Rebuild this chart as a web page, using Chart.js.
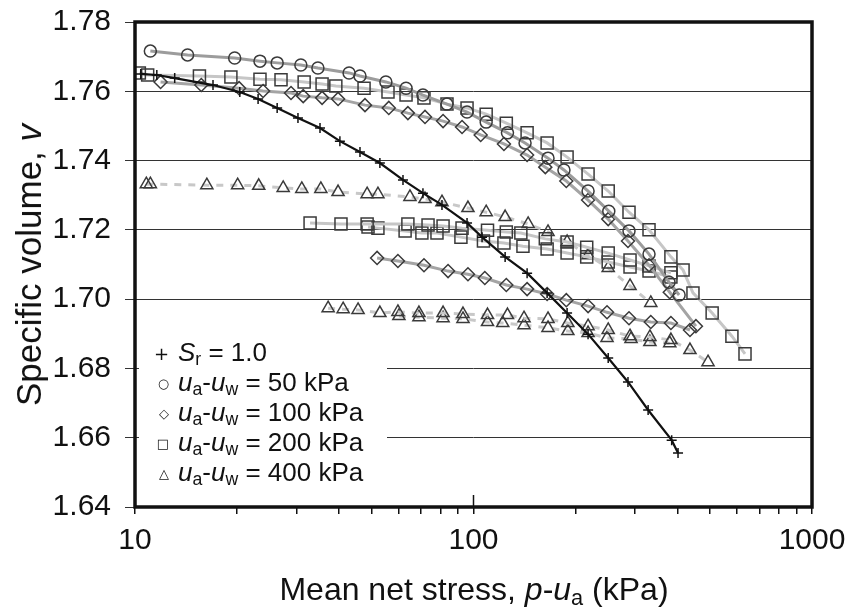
<!DOCTYPE html>
<html>
<head>
<meta charset="utf-8">
<script src="https://cdn.jsdelivr.net/npm/chart.js@4"></script>
<style>
  body { margin: 0; background: #fff; }
  #wrap { position: relative; width: 850px; height: 612px; font-family: 'Liberation Sans', Arial, sans-serif; color: #111; }
  #legend { position: absolute; left: 139px; top: 338px; width: 248px; height: 146px; background: #fff; font-size: 26px; line-height: 29px; }
  #legend .row { white-space: nowrap; }
  #legend .mk { display: inline-block; width: 30px; text-align: right; padding-right: 9px; font-family: 'DejaVu Sans', sans-serif; font-size: 13px; vertical-align: 3px; }
  #legend sub, .axtitle sub { font-size: 0.68em; vertical-align: -0.22em; line-height: 0; }
  .axtitle { position: absolute; white-space: nowrap; }
  #xtitle { left: 0; width: 948px; text-align: center; top: 571px; font-size: 32px; }
  #ytitle { left: 29px; top: 265px; transform: translate(-50%, -50%) rotate(-90deg); font-size: 35px; }
</style>
</head>
<body>
<div id="wrap">
  <canvas id="chart" width="850" height="612"></canvas>
  <div id="legend">
    <div class="row"><span class="mk" style="font-size:18px;vertical-align:1px">+</span><i>S</i><sub>r</sub> = 1.0</div>
    <div class="row"><span class="mk">○</span><i>u</i><sub>a</sub>-<i>u</i><sub>w</sub> = 50 kPa</div>
    <div class="row"><span class="mk">◇</span><i>u</i><sub>a</sub>-<i>u</i><sub>w</sub> = 100 kPa</div>
    <div class="row"><span class="mk">□</span><i>u</i><sub>a</sub>-<i>u</i><sub>w</sub> = 200 kPa</div>
    <div class="row"><span class="mk">△</span><i>u</i><sub>a</sub>-<i>u</i><sub>w</sub> = 400 kPa</div>
  </div>
  <div class="axtitle" id="xtitle">Mean net stress, <i>p</i>-<i>u</i><sub>a</sub> (kPa)</div>
  <div class="axtitle" id="ytitle">Specific volume, <i>v</i></div>
</div>
<script>
// saturated sample (Sr = 1.0)
const satStress = [10.4, 11.6, 13.1, 17.0, 20.4, 23.1, 26.3, 30.3, 35.2, 40.3, 46.2, 52.9, 61.9, 70.9, 80.7, 95.7, 106, 124, 144, 165, 189, 218, 250, 286, 328, 385, 402];
const satVolume = [1.7650, 1.7647, 1.7638, 1.7618, 1.7598, 1.7578, 1.7552, 1.7523, 1.7494, 1.7456, 1.7425, 1.7393, 1.7344, 1.7306, 1.7272, 1.7220, 1.7179, 1.7122, 1.7075, 1.7018, 1.6960, 1.6899, 1.6830, 1.6761, 1.6680, 1.6593, 1.6556];

// suction 50 kPa
const s50Stress = [11.1, 14.3, 19.7, 23.4, 26.3, 30.9, 34.7, 42.9, 46.2, 55.1, 63.2, 70.9, 83.5, 95.7, 109, 126, 142, 166, 185, 218, 251, 288, 330, 378, 405];
const s50Volume = [1.7716, 1.7705, 1.7696, 1.7687, 1.7682, 1.7676, 1.7667, 1.7653, 1.7644, 1.7627, 1.7609, 1.7589, 1.7563, 1.7540, 1.7511, 1.7480, 1.7451, 1.7407, 1.7373, 1.7312, 1.7254, 1.7197, 1.7130, 1.7049, 1.7012];

// suction 100 kPa (two tests)
const s100aStress = [11.9, 15.7, 20.3, 23.9, 28.9, 31.4, 35.7, 39.8, 47.8, 56.2, 64.0, 71.9, 81.3, 92.5, 105, 123, 144, 163, 188, 218, 250, 286, 330, 380, 454];
const s100aVolume = [1.7627, 1.7618, 1.7609, 1.7601, 1.7595, 1.7586, 1.7581, 1.7578, 1.7560, 1.7552, 1.7537, 1.7526, 1.7514, 1.7497, 1.7474, 1.7448, 1.7416, 1.7381, 1.7341, 1.7286, 1.7231, 1.7168, 1.7098, 1.7020, 1.6922];
const s100bStress = [51.9, 59.8, 71.4, 84.1, 96.3, 108, 125, 144, 165, 188, 218, 248, 288, 334, 383, 436];
const s100bVolume = [1.7119, 1.7110, 1.7098, 1.7081, 1.7072, 1.7061, 1.7041, 1.7029, 1.7015, 1.6997, 1.6980, 1.6962, 1.6945, 1.6934, 1.6931, 1.6911];

// suction 200 kPa (three tests)
const s200aStress = [10.3, 10.9, 15.5, 19.2, 23.4, 27.0, 31.6, 35.7, 39.2, 47.5, 55.9, 63.2, 71.4, 83.5, 95.7, 109, 125, 144, 165, 189, 218, 250, 288, 330, 383, 416, 445, 507, 580, 634];
const s200aVolume = [1.7653, 1.7647, 1.7644, 1.7641, 1.7635, 1.7633, 1.7627, 1.7621, 1.7615, 1.7609, 1.7598, 1.7589, 1.7581, 1.7563, 1.7552, 1.7534, 1.7508, 1.7480, 1.7451, 1.7410, 1.7361, 1.7312, 1.7251, 1.7200, 1.7122, 1.7084, 1.7018, 1.6960, 1.6893, 1.6842];
const s200bStress = [32.9, 40.6, 48.5, 64.0, 73.4, 81.3, 92.5, 110, 125, 138, 163, 189, 216, 250, 290, 330, 383];
const s200bVolume = [1.7220, 1.7217, 1.7217, 1.7217, 1.7214, 1.7211, 1.7205, 1.7199, 1.7194, 1.7191, 1.7174, 1.7165, 1.7150, 1.7133, 1.7113, 1.7096, 1.7076];
const s200cStress = [48.8, 52.2, 62.8, 70.4, 78.0, 91.8, 107, 123, 140, 165, 189, 216, 250, 290, 330, 383];
const s200cVolume = [1.7208, 1.7205, 1.7197, 1.7191, 1.7191, 1.7179, 1.7168, 1.7162, 1.7153, 1.7145, 1.7133, 1.7122, 1.7107, 1.7093, 1.7081, 1.7064];

// suction 400 kPa (three tests)
const s400aStress = [10.8, 11.1, 16.3, 20.1, 23.2, 27.4, 31.1, 35.4, 39.8, 48.5, 52.2, 64.9, 71.9, 80.7, 96.3, 109, 124, 145, 166, 189, 218, 250, 290, 334];
const s400aVolume = [1.7332, 1.7332, 1.7329, 1.7329, 1.7327, 1.7321, 1.7318, 1.7318, 1.7309, 1.7303, 1.7303, 1.7295, 1.7289, 1.7280, 1.7263, 1.7251, 1.7237, 1.7217, 1.7194, 1.7165, 1.7127, 1.7090, 1.7038, 1.6989];
const s400bStress = [37.2, 41.2, 45.6, 52.9, 59.8, 69.0, 81.3, 93.1, 110, 126, 141, 166, 190, 218, 250, 290, 332, 383, 436, 493];
const s400bVolume = [1.6974, 1.6971, 1.6969, 1.6960, 1.6963, 1.6960, 1.6960, 1.6957, 1.6954, 1.6954, 1.6945, 1.6943, 1.6931, 1.6922, 1.6911, 1.6893, 1.6891, 1.6882, 1.6853, 1.6818];
const s400cStress = [60.2, 69.0, 81.3, 93.1, 110, 122, 141, 166, 190, 218, 248, 292, 332, 380];
const s400cVolume = [1.6951, 1.6948, 1.6945, 1.6943, 1.6934, 1.6931, 1.6925, 1.6917, 1.6908, 1.6902, 1.6888, 1.6885, 1.6876, 1.6873];

// axis ticks
const xTicks = [10, 20, 30, 40, 50, 60, 70, 80, 90, 100, 200, 300, 400, 500, 600, 700, 800, 900, 1000];
const xLabels = [10, 100, 1000];
const yMin = 1.64, yMax = 1.78, yStep = 0.02;

const tickFont = { family: "'Liberation Sans', Arial, sans-serif", size: 30 };

function pairs(xs, ys) {
    return xs.map((x, i) => ({ x: x, y: ys[i] }));
}

function series(label, xs, ys, style) {
    return Object.assign({
        label: label,
        data: pairs(xs, ys),
        showLine: true,
        tension: 0,
        borderWidth: 3,
        pointBorderColor: '#3a3a3a',
        pointBackgroundColor: 'rgba(255,255,255,0)',
        pointBorderWidth: 1.5,
        pointHoverRadius: 0
    }, style);
}

const satStyle = { borderColor: '#111', borderWidth: 2.2, pointStyle: 'cross', pointRadius: 5, pointBorderColor: '#111', pointBorderWidth: 1.5 };
const circStyle = { borderColor: '#9c9c9c', pointStyle: 'circle', pointRadius: 6 };
const diaStyle = { borderColor: '#a4a4a4', pointStyle: 'rectRot', pointRadius: 6.5 };
const sqStyle = { borderColor: '#c6c6c6', pointStyle: 'rect', pointRadius: 8.5 };
const triStyle = { borderColor: '#c8c8c8', borderDash: [7, 7], pointStyle: 'triangle', pointRadius: 7 };

// drop the edge padding that the tick labels ask for, so the plot box sits where it should
function trimPadding(scale) {
    scale.paddingTop = 0;
    scale.paddingBottom = 0;
    scale.paddingLeft = 0;
    scale.paddingRight = 0;
}

// thick frame + inner major ticks on the x axis
const framePlugin = {
    id: 'frame',
    afterDraw(chart) {
        const { ctx, chartArea: a, scales } = chart;
        ctx.save();
        ctx.strokeStyle = '#111';
        ctx.lineWidth = 1.5;
        xLabels.forEach(v => {
            const px = scales.x.getPixelForValue(v);
            ctx.beginPath();
            ctx.moveTo(px, a.bottom);
            ctx.lineTo(px, a.bottom - 12);
            ctx.stroke();
        });
        ctx.lineWidth = 3.5;
        ctx.strokeRect(a.left, a.top, a.right - a.left, a.bottom - a.top);
        ctx.restore();
    }
};

new Chart(document.getElementById('chart'), {
    type: 'scatter',
    data: {
        datasets: [
            series('Sr = 1.0', satStress, satVolume, satStyle),
            series('50 kPa', s50Stress, s50Volume, circStyle),
            series('100 kPa', s100aStress, s100aVolume, diaStyle),
            series('100 kPa b', s100bStress, s100bVolume, diaStyle),
            series('200 kPa', s200aStress, s200aVolume, sqStyle),
            series('200 kPa b', s200bStress, s200bVolume, sqStyle),
            series('200 kPa c', s200cStress, s200cVolume, sqStyle),
            series('400 kPa', s400aStress, s400aVolume, triStyle),
            series('400 kPa b', s400bStress, s400bVolume, triStyle),
            series('400 kPa c', s400cStress, s400cVolume, triStyle)
        ]
    },
    options: {
        responsive: false,
        animation: false,
        events: [],
        layout: { padding: { left: 0, right: 38, top: 22, bottom: 0 } },
        plugins: { legend: { display: false }, tooltip: { enabled: false } },
        scales: {
            x: {
                type: 'logarithmic',
                min: 10,
                max: 1000,
                afterBuildTicks: scale => { scale.ticks = xTicks.map(v => ({ value: v })); },
                afterFit: scale => { scale.height = 105; trimPadding(scale); },
                border: { display: false },
                grid: { drawOnChartArea: false, drawTicks: true, tickLength: 7, color: '#111', lineWidth: 1.5 },
                ticks: {
                    autoSkip: false,
                    maxRotation: 0,
                    padding: 9,
                    color: '#111',
                    font: tickFont,
                    callback: v => xLabels.includes(v) ? String(v) : ''
                }
            },
            y: {
                min: yMin,
                max: yMax,
                afterFit: scale => { scale.width = 135; trimPadding(scale); },
                border: { display: false },
                grid: { color: '#333', lineWidth: 1, tickLength: 10 },
                ticks: {
                    stepSize: yStep,
                    padding: 14,
                    color: '#111',
                    font: tickFont,
                    callback: v => v.toFixed(2)
                }
            }
        }
    },
    plugins: [framePlugin]
});
</script>
</body>
</html>
